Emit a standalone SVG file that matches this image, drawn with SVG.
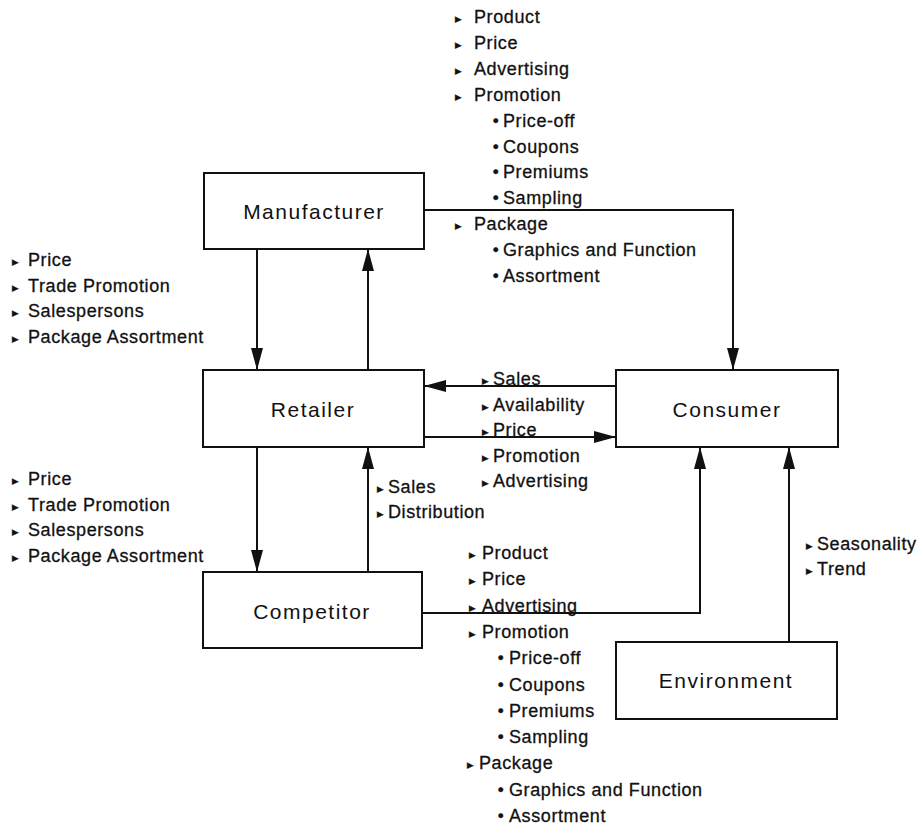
<svg xmlns="http://www.w3.org/2000/svg" width="920" height="827" viewBox="0 0 920 827">
  <style>
    .box { fill: #fff; stroke: #111; stroke-width: 2; }
    .name { font-family: "Liberation Sans", Arial, sans-serif; font-size: 21px; letter-spacing: 1.5px; fill: #111; text-anchor: middle; }
    .item { font-family: "Liberation Sans", Arial, sans-serif; font-size: 18px; letter-spacing: 0.6px; fill: #111; stroke: #111; stroke-width: 0.3px; }
    .tri { font-family: "DejaVu Sans", sans-serif; font-size: 13px; letter-spacing: 0; }
    .dot { font-family: "DejaVu Sans", sans-serif; font-size: 16px; letter-spacing: 0; }
    .wire { fill: none; stroke: #111; stroke-width: 2; }
  </style>
  <defs>
    <marker id="head" viewBox="0 0 22 12" refX="22" refY="6" markerWidth="22" markerHeight="12" markerUnits="userSpaceOnUse" orient="auto">
      <path d="M0,0 L22,6 L0,12 Z" fill="#111"/>
    </marker>
  </defs>
  <rect width="920" height="827" fill="#fff"/>

  <!-- connectors -->
  <g id="connectors">
    <path class="wire" d="M257,249 V370" marker-end="url(#head)"/>
    <path class="wire" d="M368,370 V249" marker-end="url(#head)"/>
    <path class="wire" d="M424,210 H733 V370" marker-end="url(#head)"/>
    <path class="wire" d="M616,386 H424" marker-end="url(#head)"/>
    <path class="wire" d="M424,437 H616" marker-end="url(#head)"/>
    <path class="wire" d="M257,447 V572" marker-end="url(#head)"/>
    <path class="wire" d="M368,572 V447" marker-end="url(#head)"/>
    <path class="wire" d="M422,613 H700 V447" marker-end="url(#head)"/>
    <path class="wire" d="M789,642 V447" marker-end="url(#head)"/>
  </g>

  <!-- nodes -->
  <g id="manufacturer">
    <rect class="box" x="204" y="173" width="220" height="76"/>
    <text class="name" x="314" y="219">Manufacturer</text>
  </g>
  <g id="retailer">
    <rect class="box" x="203" y="370" width="221" height="77"/>
    <text class="name" x="313" y="417">Retailer</text>
  </g>
  <g id="consumer">
    <rect class="box" x="616" y="370" width="222" height="77"/>
    <text class="name" x="727" y="417">Consumer</text>
  </g>
  <g id="competitor">
    <rect class="box" x="203" y="572" width="219" height="76"/>
    <text class="name" x="312" y="619">Competitor</text>
  </g>
  <g id="environment">
    <rect class="box" x="616" y="642" width="221" height="77"/>
    <text class="name" x="726" y="688">Environment</text>
  </g>

  <!-- manufacturer to consumer levers -->
  <g id="labels-top" class="item">
    <text y="23"><tspan class="tri" x="455">▸</tspan><tspan x="474">Product</tspan></text>
    <text y="48.9"><tspan class="tri" x="455">▸</tspan><tspan x="474">Price</tspan></text>
    <text y="74.8"><tspan class="tri" x="455">▸</tspan><tspan x="474">Advertising</tspan></text>
    <text y="100.7"><tspan class="tri" x="455">▸</tspan><tspan x="474">Promotion</tspan></text>
    <text y="126.6"><tspan class="dot" x="491">•</tspan><tspan x="503">Price-off</tspan></text>
    <text y="152.5"><tspan class="dot" x="491">•</tspan><tspan x="503">Coupons</tspan></text>
    <text y="178.4"><tspan class="dot" x="491">•</tspan><tspan x="503">Premiums</tspan></text>
    <text y="204.3"><tspan class="dot" x="491">•</tspan><tspan x="503">Sampling</tspan></text>
    <text y="230.2"><tspan class="tri" x="455">▸</tspan><tspan x="474">Package</tspan></text>
    <text y="256.1"><tspan class="dot" x="491">•</tspan><tspan x="503">Graphics and Function</tspan></text>
    <text y="282"><tspan class="dot" x="491">•</tspan><tspan x="503">Assortment</tspan></text>
  </g>

  <!-- manufacturer to retailer -->
  <g id="labels-left-1" class="item">
    <text y="266"><tspan class="tri" x="12">▸</tspan><tspan x="28">Price</tspan></text>
    <text y="291.5"><tspan class="tri" x="12">▸</tspan><tspan x="28">Trade Promotion</tspan></text>
    <text y="317"><tspan class="tri" x="12">▸</tspan><tspan x="28">Salespersons</tspan></text>
    <text y="342.5"><tspan class="tri" x="12">▸</tspan><tspan x="28">Package Assortment</tspan></text>
  </g>

  <!-- retailer to competitor -->
  <g id="labels-left-2" class="item">
    <text y="485"><tspan class="tri" x="12">▸</tspan><tspan x="28">Price</tspan></text>
    <text y="510.5"><tspan class="tri" x="12">▸</tspan><tspan x="28">Trade Promotion</tspan></text>
    <text y="536"><tspan class="tri" x="12">▸</tspan><tspan x="28">Salespersons</tspan></text>
    <text y="561.5"><tspan class="tri" x="12">▸</tspan><tspan x="28">Package Assortment</tspan></text>
  </g>

  <!-- retailer / consumer exchange -->
  <g id="labels-middle" class="item">
    <text y="385"><tspan class="tri" x="482">▸</tspan><tspan x="493">Sales</tspan></text>
    <text y="410.5"><tspan class="tri" x="482">▸</tspan><tspan x="493">Availability</tspan></text>
    <text y="436"><tspan class="tri" x="482">▸</tspan><tspan x="493">Price</tspan></text>
    <text y="461.5"><tspan class="tri" x="482">▸</tspan><tspan x="493">Promotion</tspan></text>
    <text y="487"><tspan class="tri" x="482">▸</tspan><tspan x="493">Advertising</tspan></text>
  </g>

  <!-- competitor to retailer -->
  <g id="labels-competitor-retailer" class="item">
    <text y="493"><tspan class="tri" x="377">▸</tspan><tspan x="388">Sales</tspan></text>
    <text y="518"><tspan class="tri" x="377">▸</tspan><tspan x="388">Distribution</tspan></text>
  </g>

  <!-- competitor to consumer levers -->
  <g id="labels-bottom" class="item">
    <text y="559"><tspan class="tri" x="469">▸</tspan><tspan x="482">Product</tspan></text>
    <text y="585.3"><tspan class="tri" x="469">▸</tspan><tspan x="482">Price</tspan></text>
    <text y="611.6"><tspan class="tri" x="469">▸</tspan><tspan x="482">Advertising</tspan></text>
    <text y="637.9"><tspan class="tri" x="469">▸</tspan><tspan x="482">Promotion</tspan></text>
    <text y="664.2"><tspan class="dot" x="496">•</tspan><tspan x="509">Price-off</tspan></text>
    <text y="690.5"><tspan class="dot" x="496">•</tspan><tspan x="509">Coupons</tspan></text>
    <text y="716.8"><tspan class="dot" x="496">•</tspan><tspan x="509">Premiums</tspan></text>
    <text y="743.1"><tspan class="dot" x="496">•</tspan><tspan x="509">Sampling</tspan></text>
    <text y="769.4"><tspan class="tri" x="467">▸</tspan><tspan x="479">Package</tspan></text>
    <text y="795.7"><tspan class="dot" x="496">•</tspan><tspan x="509">Graphics and Function</tspan></text>
    <text y="822"><tspan class="dot" x="496">•</tspan><tspan x="509">Assortment</tspan></text>
  </g>

  <!-- environment to consumer -->
  <g id="labels-environment" class="item">
    <text y="550"><tspan class="tri" x="806">▸</tspan><tspan x="817">Seasonality</tspan></text>
    <text y="575"><tspan class="tri" x="806">▸</tspan><tspan x="817">Trend</tspan></text>
  </g>
</svg>
